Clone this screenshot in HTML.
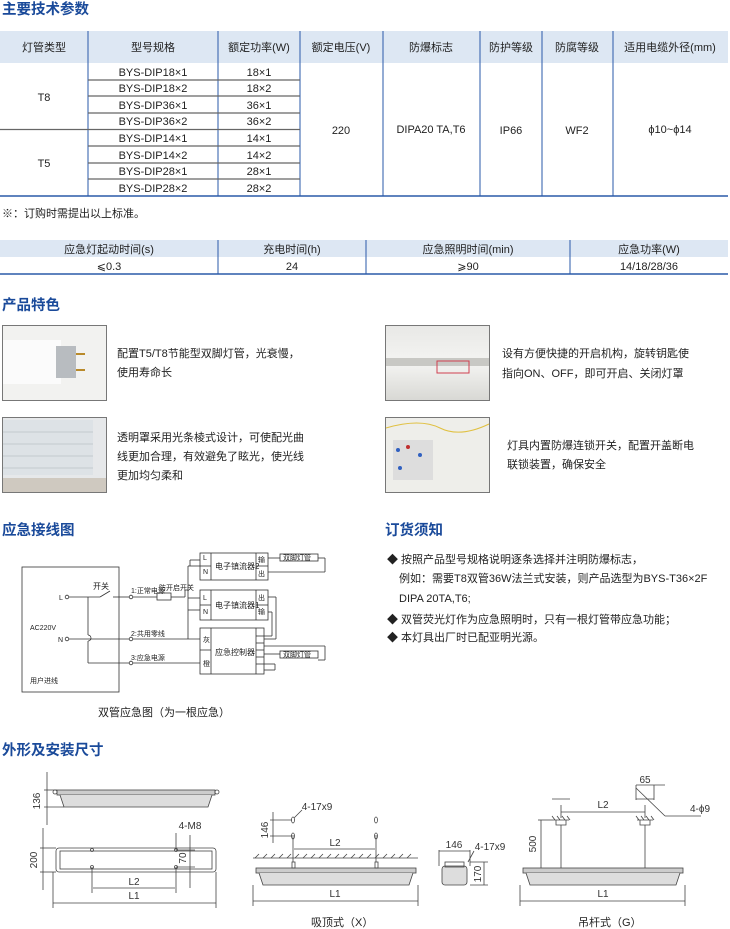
<!DOCTYPE html>
<html><head><meta charset="utf-8"><style>
html,body{margin:0;padding:0;background:#fff;}
svg{display:block;font-family:"Liberation Sans","Noto Sans CJK SC",sans-serif;}
.t{font-size:11px;fill:#222;}
.h{font-size:14.5px;font-weight:bold;fill:#1a4a9a;}
.s{font-size:7px;fill:#222;}
.d{font-size:10px;fill:#333;}
</style></head><body>
<svg width="730" height="929" viewBox="0 0 730 929">
<defs>
<linearGradient id="gp" x1="0" y1="0" x2="0" y2="1"><stop offset="0" stop-color="#e8e8e6"/><stop offset="0.5" stop-color="#f4f4f2"/><stop offset="1" stop-color="#d8d8d4"/></linearGradient>
</defs>
<text class="h" x="2" y="14">主要技术参数</text>
<rect x="0" y="31" width="728" height="32" fill="#dde7f3"/>
<g stroke="#2a5aa8" stroke-width="1">
<line x1="88" y1="31" x2="88" y2="196"/><line x1="218" y1="31" x2="218" y2="196"/><line x1="300" y1="31" x2="300" y2="196"/><line x1="383" y1="31" x2="383" y2="196"/><line x1="480" y1="31" x2="480" y2="196"/><line x1="542" y1="31" x2="542" y2="196"/><line x1="613" y1="31" x2="613" y2="196"/>
</g>
<g stroke="#666" stroke-width="1.2">
<line x1="88" y1="80" x2="300" y2="80"/><line x1="88" y1="96" x2="300" y2="96"/><line x1="88" y1="113" x2="300" y2="113"/><line x1="0" y1="129.5" x2="300" y2="129.5"/><line x1="88" y1="146" x2="300" y2="146"/><line x1="88" y1="163" x2="300" y2="163"/><line x1="88" y1="179" x2="300" y2="179"/>
</g>
<line x1="0" y1="196" x2="728" y2="196" stroke="#2a5aa8" stroke-width="1.5"/>
<g class="t" text-anchor="middle">
<text x="44" y="51">灯管类型</text><text x="153" y="51">型号规格</text><text x="259" y="51">额定功率(W)</text><text x="341" y="51">额定电压(V)</text><text x="431" y="51">防爆标志</text><text x="511" y="51">防护等级</text><text x="577" y="51">防腐等级</text><text x="670" y="51">适用电缆外径(mm)</text>
<text x="44" y="101">T8</text><text x="44" y="167">T5</text>
<text x="153" y="76">BYS-DIP18×1</text><text x="153" y="92">BYS-DIP18×2</text><text x="153" y="109">BYS-DIP36×1</text><text x="153" y="125">BYS-DIP36×2</text><text x="153" y="142">BYS-DIP14×1</text><text x="153" y="159">BYS-DIP14×2</text><text x="153" y="175">BYS-DIP28×1</text><text x="153" y="192">BYS-DIP28×2</text>
<text x="259" y="76">18×1</text><text x="259" y="92">18×2</text><text x="259" y="109">36×1</text><text x="259" y="125">36×2</text><text x="259" y="142">14×1</text><text x="259" y="159">14×2</text><text x="259" y="175">28×1</text><text x="259" y="192">28×2</text>
<text x="341" y="134">220</text><text x="431" y="133">DIPA20 TA,T6</text><text x="511" y="134">IP66</text><text x="577" y="134">WF2</text><text x="670" y="133">ϕ10~ϕ14</text>
</g>
<text class="t" x="2" y="217" font-size="10">※：订购时需提出以上标准。</text>
<rect x="0" y="240" width="728" height="17" fill="#dde7f3"/>
<g stroke="#2a5aa8"><line x1="218" y1="240" x2="218" y2="274"/><line x1="366" y1="240" x2="366" y2="274"/><line x1="570" y1="240" x2="570" y2="274"/></g>
<line x1="0" y1="274" x2="728" y2="274" stroke="#2a5aa8" stroke-width="1.5"/>
<g class="t" text-anchor="middle">
<text x="109" y="253">应急灯起动时间(s)</text><text x="292" y="253">充电时间(h)</text><text x="468" y="253">应急照明时间(min)</text><text x="649" y="253">应急功率(W)</text>
<text x="109" y="270">⩽0.3</text><text x="292" y="270">24</text><text x="468" y="270">⩾90</text><text x="649" y="270">14/18/28/36</text>
</g>
<text class="h" x="2" y="310">产品特色</text>
<g stroke="#777" stroke-width="1">
<rect x="2.5" y="325.5" width="104" height="75" fill="#f2f2f0"/>
<rect x="385.5" y="325.5" width="104" height="75" fill="url(#gp)"/>
<rect x="2.5" y="417.5" width="104" height="75" fill="#e6e8ea"/>
<rect x="385.5" y="417.5" width="104" height="75" fill="#eeeeea"/>
</g>
<rect x="3" y="340" width="58" height="44" fill="#fbfbfb"/>
<rect x="56" y="346" width="20" height="32" fill="#b8bcc0"/>
<line x1="76" y1="354" x2="85" y2="354" stroke="#b98a2a" stroke-width="2"/><line x1="76" y1="370" x2="85" y2="370" stroke="#b98a2a" stroke-width="2"/>
<rect x="386" y="358" width="103" height="8" fill="#c8c8c4"/>
<rect x="437" y="361" width="32" height="12" fill="none" stroke="#d04050"/>
<rect x="3" y="420" width="90" height="55" fill="#dde2e6"/>
<g stroke="#c4c9ce"><line x1="3" y1="432" x2="93" y2="432"/><line x1="3" y1="444" x2="93" y2="444"/><line x1="3" y1="456" x2="93" y2="456"/><line x1="3" y1="468" x2="93" y2="468"/></g>
<rect x="3" y="478" width="103" height="14" fill="#cfc9c0"/>
<path d="M386 428 Q420 418 440 428 T489 424" stroke="#e0c040" fill="none"/>
<rect x="393" y="440" width="40" height="40" fill="#ddd"/>
<circle cx="398" cy="450" r="2" fill="#3060c0"/><circle cx="420" cy="455" r="2" fill="#3060c0"/><circle cx="400" cy="468" r="2" fill="#3060c0"/><circle cx="408" cy="447" r="2" fill="#c03030"/>
<g class="t" font-size="11">
<text x="117" y="357">配置T5/T8节能型双脚灯管，光衰慢，</text><text x="117" y="376">使用寿命长</text>
<text x="502" y="357">设有方便快捷的开启机构，旋转钥匙使</text><text x="502" y="377">指向ON、OFF，即可开启、关闭灯罩</text>
<text x="117" y="441">透明罩采用光条棱式设计，可使配光曲</text><text x="117" y="460">线更加合理，有效避免了眩光，使光线</text><text x="117" y="479">更加均匀柔和</text>
<text x="507" y="449">灯具内置防爆连锁开关，配置开盖断电</text><text x="507" y="468">联锁装置，确保安全</text>
</g>
<text class="h" x="2" y="535">应急接线图</text>
<text class="h" x="385" y="535">订货须知</text>
<g fill="none" stroke="#333" stroke-width="0.8">
<rect x="22" y="567" width="97" height="125"/>
<circle cx="67" cy="597" r="1.8"/><circle cx="67" cy="639" r="1.8"/>
<line x1="69" y1="597" x2="100" y2="597"/><line x1="100" y1="597" x2="110" y2="591"/><line x1="113" y1="597" x2="129" y2="597"/>
<circle cx="131" cy="597" r="1.8"/><line x1="133" y1="597" x2="157" y2="597"/><rect x="157" y="593" width="14" height="7"/><line x1="171" y1="597" x2="185" y2="597"/>
<line x1="88" y1="597" x2="88" y2="635"/><path d="M88 635 a3 3 0 0 1 0 6"/><line x1="88" y1="641" x2="88" y2="663"/><line x1="88" y1="663" x2="129" y2="663"/><circle cx="131" cy="663" r="1.8"/><line x1="133" y1="663" x2="200" y2="663"/>
<line x1="69" y1="639" x2="129" y2="639"/><circle cx="131" cy="639" r="1.8"/><line x1="133" y1="639" x2="200" y2="639"/>
<line x1="188" y1="566" x2="188" y2="639"/><line x1="185" y1="597" x2="185" y2="590"/><line x1="185" y1="590" x2="188" y2="590"/>
<line x1="188" y1="566" x2="200" y2="566"/><line x1="190" y1="560" x2="190" y2="566"/><line x1="190" y1="560" x2="200" y2="560"/><line x1="188" y1="598" x2="200" y2="598"/><line x1="188" y1="610" x2="200" y2="610"/>
<rect x="200" y="553" width="68" height="27"/><line x1="211" y1="553" x2="211" y2="580"/><line x1="256" y1="553" x2="256" y2="580"/><line x1="200" y1="566" x2="211" y2="566"/><line x1="256" y1="566" x2="268" y2="566"/>
<rect x="200" y="590" width="68" height="30"/><line x1="211" y1="590" x2="211" y2="620"/><line x1="256" y1="590" x2="256" y2="620"/><line x1="200" y1="605" x2="211" y2="605"/><line x1="256" y1="605" x2="268" y2="605"/>
<rect x="200" y="628" width="64" height="46"/><line x1="211" y1="628" x2="211" y2="674"/><line x1="256" y1="628" x2="256" y2="674"/><line x1="200" y1="650" x2="211" y2="650"/>
<line x1="256" y1="636" x2="264" y2="636"/><line x1="256" y1="643" x2="264" y2="643"/><line x1="256" y1="650" x2="264" y2="650"/><line x1="256" y1="657" x2="264" y2="657"/><line x1="256" y1="664" x2="264" y2="664"/>
<line x1="268" y1="558" x2="280" y2="558"/><rect x="280" y="554" width="38" height="7"/><line x1="318" y1="558" x2="325" y2="558"/><line x1="325" y1="558" x2="325" y2="572"/><line x1="268" y1="572" x2="325" y2="572"/>
<line x1="268" y1="597" x2="276" y2="597"/><line x1="276" y1="597" x2="276" y2="639"/><line x1="264" y1="639" x2="276" y2="639"/>
<line x1="268" y1="612" x2="272" y2="612"/><line x1="272" y1="612" x2="272" y2="636"/><line x1="264" y1="636" x2="272" y2="636"/>
<line x1="264" y1="646" x2="325" y2="646"/><line x1="325" y1="646" x2="325" y2="660"/><line x1="318" y1="660" x2="325" y2="660"/><line x1="264" y1="654" x2="280" y2="654"/><rect x="280" y="651" width="38" height="7"/>
<line x1="264" y1="664" x2="275" y2="664"/><line x1="275" y1="664" x2="275" y2="670"/><line x1="264" y1="670" x2="275" y2="670"/>
</g>
<g class="s">
<text x="93" y="589" font-size="8">开关</text><text x="59" y="600">L</text><text x="58" y="642">N</text><text x="30" y="630">AC220V</text><text x="30" y="683">用户进线</text>
<text x="131" y="593">1:正常电源</text><text x="159" y="590">防开启开关</text><text x="131" y="636">2:共用零线</text><text x="131" y="660">3:应急电源</text>
<text x="203" y="560">L</text><text x="203" y="574">N</text><text x="215" y="569" font-size="8">电子镇流器2</text><text x="258" y="562">输</text><text x="258" y="576">出</text>
<text x="203" y="600">L</text><text x="203" y="614">N</text><text x="215" y="608" font-size="8">电子镇流器1</text><text x="258" y="600">出</text><text x="258" y="614">输</text>
<text x="203" y="642">灰</text><text x="203" y="666">橙</text><text x="215" y="655" font-size="8">应急控制器</text>
<text x="283" y="560">双脚灯管</text><text x="283" y="657">双脚灯管</text>
</g>
<text class="t" x="98" y="716">双管应急图（为一根应急）</text>
<g class="t" font-size="10.5">
<text x="387" y="563">◆ 按照产品型号规格说明逐条选择并注明防爆标志，</text>
<text x="399" y="582">例如：需要T8双管36W法兰式安装，则产品选型为BYS-T36×2F</text>
<text x="399" y="602">DIPA 20TA,T6;</text>
<text x="387" y="623">◆ 双管荧光灯作为应急照明时，只有一根灯管带应急功能；</text>
<text x="387" y="641">◆ 本灯具出厂时已配亚明光源。</text>
</g>
<text class="h" x="2" y="755">外形及安装尺寸</text>
<g fill="none" stroke="#444" stroke-width="0.8">
<rect x="57" y="790" width="158" height="5" fill="#ccc"/><path d="M60 795 L64 807 L208 807 L212 795" fill="#ddd"/>
<circle cx="55" cy="792" r="2"/><circle cx="217" cy="792" r="2"/>
<line x1="47" y1="772" x2="47" y2="825"/><line x1="44" y1="790" x2="57" y2="790"/><line x1="44" y1="807" x2="64" y2="807"/>
<rect x="56" y="848" width="160" height="24" rx="3"/><rect x="60" y="851" width="152" height="18"/>
<circle cx="92" cy="850" r="1.5"/><circle cx="92" cy="867" r="1.5"/><circle cx="176" cy="850" r="1.5"/><circle cx="176" cy="867" r="1.5"/>
<line x1="43" y1="828" x2="43" y2="890"/><line x1="40" y1="848" x2="56" y2="848"/><line x1="40" y1="872" x2="56" y2="872"/>
<line x1="92" y1="867" x2="92" y2="893"/><line x1="176" y1="867" x2="176" y2="893"/><line x1="93" y1="888" x2="175" y2="888"/>
<line x1="53" y1="872" x2="53" y2="908"/><line x1="216" y1="872" x2="216" y2="908"/><line x1="53" y1="903" x2="216" y2="903"/>
<line x1="190" y1="835" x2="190" y2="888"/><line x1="176" y1="850" x2="195" y2="850"/><line x1="176" y1="867" x2="195" y2="867"/><line x1="176" y1="833" x2="176" y2="850"/>
<line x1="253" y1="858" x2="418" y2="858"/>
<path d="M255 858 l4 -4 M263 858 l4 -4 M271 858 l4 -4 M279 858 l4 -4 M287 858 l4 -4 M295 858 l4 -4 M303 858 l4 -4 M311 858 l4 -4 M319 858 l4 -4 M327 858 l4 -4 M335 858 l4 -4 M343 858 l4 -4 M351 858 l4 -4 M359 858 l4 -4 M367 858 l4 -4 M375 858 l4 -4 M383 858 l4 -4 M391 858 l4 -4 M399 858 l4 -4 M407 858 l4 -4"/>
<rect x="256" y="868" width="160" height="5" fill="#ccc"/><path d="M259 873 L263 885 L409 885 L413 873" fill="#ddd"/>
<rect x="292" y="862" width="3" height="6"/><rect x="375" y="862" width="3" height="6"/>
<line x1="293" y1="835" x2="293" y2="862"/><line x1="376" y1="835" x2="376" y2="862"/><line x1="294" y1="849" x2="375" y2="849"/>
<ellipse cx="293" cy="820" rx="1.5" ry="3"/><ellipse cx="293" cy="836" rx="1.5" ry="3"/><ellipse cx="376" cy="820" rx="1.5" ry="3"/><ellipse cx="376" cy="836" rx="1.5" ry="3"/>
<line x1="273" y1="812" x2="273" y2="843"/><line x1="270" y1="820" x2="292" y2="820"/><line x1="270" y1="836" x2="292" y2="836"/>
<line x1="294" y1="818" x2="302" y2="810"/>
<line x1="253" y1="885" x2="253" y2="906"/><line x1="418" y1="885" x2="418" y2="906"/><line x1="253" y1="901" x2="418" y2="901"/>
<rect x="442" y="866" width="25" height="19" rx="3" fill="#ddd"/><rect x="445" y="862" width="19" height="5"/>
<line x1="439" y1="850" x2="439" y2="866"/><line x1="470" y1="850" x2="470" y2="866"/><line x1="439" y1="851" x2="470" y2="851"/><line x1="468" y1="862" x2="474" y2="851"/>
<line x1="484" y1="862" x2="484" y2="885"/><line x1="470" y1="862" x2="488" y2="862"/><line x1="470" y1="885" x2="488" y2="885"/>
<rect x="523" y="868" width="160" height="5" fill="#ccc"/><path d="M526 873 L530 885 L676 885 L680 873" fill="#ddd"/>
<line x1="561" y1="825" x2="561" y2="868"/><line x1="645" y1="825" x2="645" y2="868"/>
<path d="M553 820 L569 820 M555 820 l-3 -4 M560 820 l-3 -4 M565 820 l-3 -4 M570 820 l-3 -4 M637 820 L653 820 M639 820 l-3 -4 M644 820 l-3 -4 M649 820 l-3 -4 M654 820 l-3 -4"/>
<path d="M556 820 L556 825 L566 825 L566 820 M640 820 L640 825 L650 825 L650 820"/>
<line x1="561" y1="812" x2="645" y2="812"/><line x1="561" y1="805" x2="561" y2="818"/><line x1="645" y1="805" x2="645" y2="818"/>
<line x1="552" y1="799" x2="570" y2="799"/><line x1="636" y1="799" x2="654" y2="799"/><line x1="636" y1="785" x2="636" y2="800"/><line x1="654" y1="785" x2="654" y2="800"/><line x1="636" y1="785" x2="665" y2="785"/>
<line x1="636" y1="788" x2="665" y2="816"/><line x1="665" y1="816" x2="701" y2="816"/>
<line x1="541" y1="820" x2="541" y2="868"/><line x1="538" y1="820" x2="553" y2="820"/>
<line x1="520" y1="885" x2="520" y2="906"/><line x1="685" y1="885" x2="685" y2="906"/><line x1="520" y1="901" x2="685" y2="901"/>
</g>
<g class="d" text-anchor="middle">
<text x="40" y="801" transform="rotate(-90 40 801)">136</text>
<text x="37" y="860" transform="rotate(-90 37 860)">200</text>
<text x="190" y="829">4-M8</text><text x="186" y="858" transform="rotate(-90 186 858)">70</text>
<text x="134" y="885">L2</text><text x="134" y="899">L1</text>
<text x="268" y="830" transform="rotate(-90 268 830)">146</text><text x="317" y="810">4-17x9</text>
<text x="335" y="846">L2</text><text x="335" y="897">L1</text>
<text x="454" y="848">146</text><text x="490" y="850">4-17x9</text><text x="481" y="874" transform="rotate(-90 481 874)">170</text>
<text x="536" y="844" transform="rotate(-90 536 844)">500</text><text x="603" y="808">L2</text><text x="645" y="783">65</text><text x="700" y="812">4-ϕ9</text><text x="603" y="897">L1</text>
</g>
<text class="t" x="311" y="926">吸顶式（X）</text>
<text class="t" x="578" y="926">吊杆式（G）</text>
</svg>
</body></html>
